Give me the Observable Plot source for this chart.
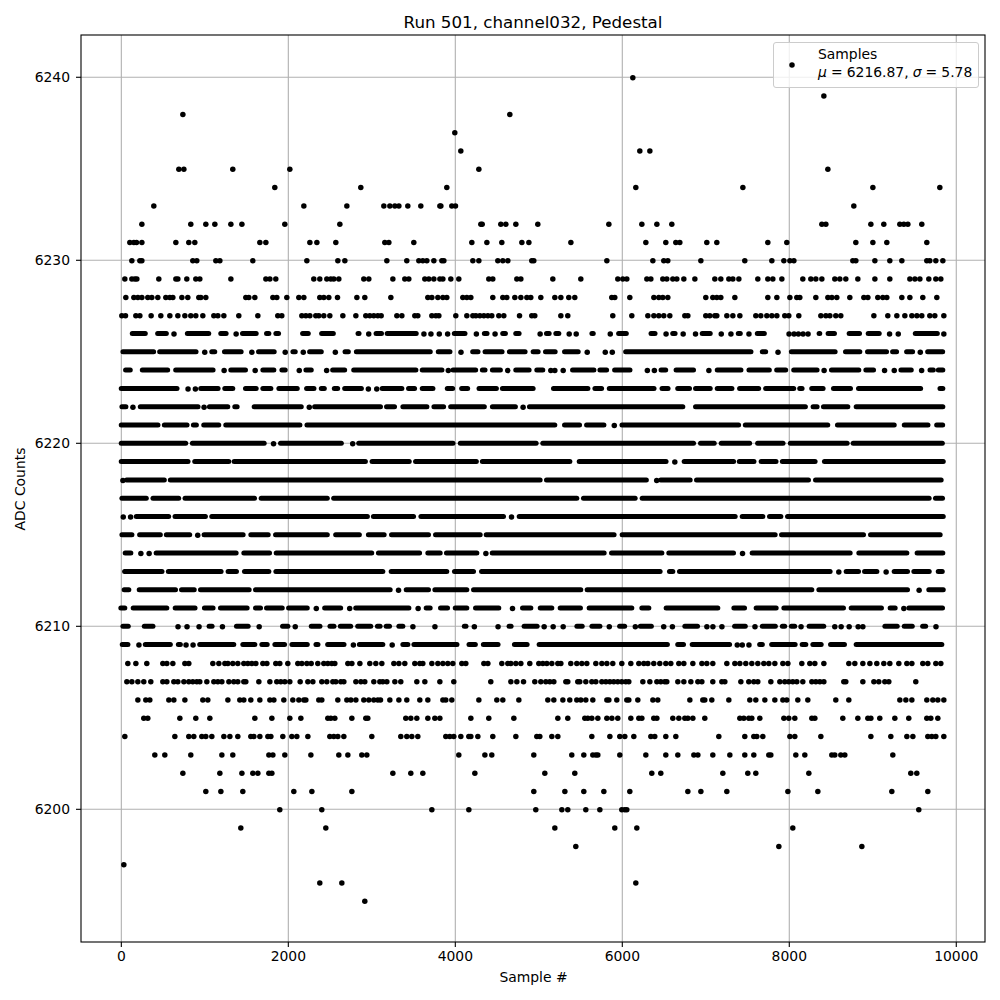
<!DOCTYPE html>
<html><head><meta charset="utf-8">
<script src="https://cdn.jsdelivr.net/npm/d3@7"></script>
<script src="https://cdn.jsdelivr.net/npm/@observablehq/plot@0.6"></script>
<style>
html,body{margin:0;padding:0;background:#fff}
#wrap{position:relative;width:1000px;height:1000px;font-family:"DejaVu Sans",sans-serif;color:#000}
#legend{position:absolute;left:773px;top:42px;width:204px;height:44px;background:rgba(255,255,255,.8);border:1px solid #ccc;border-radius:3px;font-size:13.9px;line-height:18px;word-spacing:-.3px}
#legend svg{position:absolute;left:14px;top:18px}
#legend .t{position:absolute;left:44px;white-space:nowrap}
</style></head><body><div id="wrap"></div>
<script>
const titleText = "Run 501, channel032, Pedestal";
const xLabel = "Sample #";
const yLabel = "ADC Counts";
const xTicks = [0,2000,4000,6000,8000,10000];
const yTicks = [6200,6210,6220,6230,6240];

// Individually readable samples (x = sample #)
const row6240=[6120];
const row6239=[8408];
const row6238=[731,4647];
const row6237=[3988];
const row6236=[4060,6204,6324];
const row6235=[683,743,1329,2012,4276,8456];
const row6234=[1832,2862,3892,6156,7438,8995,9797];
const row6233=[383,2180,2695,3138,3210,3270,3318,3425,3581,3809,3821,3952,3996,8767];
const row6232=[240,826,1006,1114,1306,1438,1952,2611,4300,4316,4539,4599,4719,4982,5833,6228,6408,6587,8384,8432,8971,9126,9318,9366,9414,9581];
const row6231=[96,144,176,240,647,802,874,1653,1725,2252,2336,2563,3150,3198,3497,4192,4372,4551,4791,4875,5378,6276,6515,6635,6683,7006,7126,7737,7964,8791,8995,9162,9641];
const row6230=[120,216,240,850,898,1126,1174,1569,2216,2587,2671,3174,3413,3557,3605,3653,3737,3833,3857,4204,4276,4503,4563,4623,4910,4934,5809,6360,6491,6539,6935,7461,7785,7929,8001,8049,8755,8791,9019,9198,9342,9641,9677,9749,9833];
const row6229=[36,120,156,180,443,647,671,778,886,934,1306,1725,1773,1844,2299,2371,2455,2503,2539,2599,2898,2958,3246,3389,3437,3629,3677,3737,3809,3845,3940,4036,4395,4443,4731,4779,5162,5497,5940,6000,6048,6288,6336,6479,6527,6599,6647,6731,6863,7102,7174,7270,7318,7390,7617,7737,7797,7905,8156,8252,8312,8384,8539,8599,8671,8815,9019,9198,9438,9498,9558,9665,9749,9809];
const row6228=[48,144,192,240,311,359,431,527,575,611,719,790,922,946,1006,1485,1521,1593,1809,1856,1976,2120,2180,2371,2419,2479,2583,2815,2910,3222,3665,3713,3785,3845,3892,4084,4132,4180,4443,4563,4611,4707,4779,4851,4898,5018,5186,5258,5353,5425,5868,5904,6084,6372,6431,6479,6539,6994,7078,7126,7174,7342,7737,7845,8001,8084,8120,8312,8456,8504,8563,8719,8887,8935,9054,9114,9162,9342,9438,9593,9761];
const row6227=[0,44,168,216,351,467,575,671,755,826,886,970,1102,1150,1222,1401,1629,1868,1916,2156,2204,2252,2323,2359,2419,2491,2647,2803,2922,2970,3018,3066,3106,3294,3354,3509,3545,3713,3761,3797,4000,4132,4204,4240,4288,4336,4384,4431,4515,4575,4763,4910,4946,5258,5341,5880,6108,6300,6372,6431,6491,6563,6743,6779,6994,7042,7102,7126,7246,7318,7402,7593,7653,7725,7785,7845,7940,7988,8108,8372,8432,8480,8551,8611,9007,9174,9282,9378,9462,9522,9581,9677,9737,9845];

// Dense rows: a number is one readable sample, a pair is a solid band of touching samples
const row6226=[[137,293],[441,545],625,[797,1053],[1197,1261],1369,[1457,1621],[1745,1773],[1857,1889],[2177,2245],[2405,2545],[2841,2853],2957,[3057,3122],[3190,3538],3618,3702,3802,3902,[3994,4122],4246,[4354,4386],4470,[4574,4606],[4730,4770],5010,[5098,5130],[5210,5246],5358,5442,[5642,5658],5850,[5962,6054],[6350,6398],6518,[6610,6638],6723,6871,[6963,7059],7179,7295,[7395,7419],7511,[7623,7707],7991,8051,8103,8159,8219,[8363,8371],[8471,8547],[8723,8847],[8951,9083],9195,9299,[9515,9779],9845];
const row6225=[[25,393],[465,901],993,[1089,1125],[1241,1441],1557,[1649,1837],1957,[2061,2089],2173,[2261,2401],2557,[2685,2725],[2821,3706],[3802,3942],4062,[4214,4278],[4362,4566],[4654,4842],[4938,4998],[5086,5202],[5314,5478],5574,5790,5874,[6046,7547],[7683,7723],7859,[8031,8555],[8679,8851],[8943,9171],[9243,9291],[9411,9483],9563,[9663,9843]];
const row6224=[[57,113],[257,561],[657,1105],1225,[1317,1493],1597,[1701,1833],[1929,1969],2125,[2217,2281],2453,[2537,2681],[2789,3534],[3610,3846],3910,[3978,4250],[4330,4362],[4450,4546],4622,[4730,4890],[4982,5054],5138,5186,5286,[5410,5666],[5738,5818],[5914,6098],6294,6378,[6470,6526],[6650,6859],7031,[7143,7427],[7523,7767],[7855,7963],[8059,8339],8411,[8511,8839],[8923,9015],9135,9251,[9343,9467],9579,[9691,9731],[9791,9845]];
const row6223=[[5,673],793,881,[957,1165],[1245,1341],[1493,1621],[1701,1797],[1893,2113],[2225,2313],[2401,2437],[2557,2597],[2681,2881],2953,3053,[3130,3366],[3446,3518],[3610,3738],[3910,3974],[4082,4154],[4290,4498],[4570,4938],[5182,5594],[5678,5758],[5850,6386],[6482,6554],[6670,6811],[6883,7059],[7143,7319],[7411,7639],[7723,8059],[8131,8159],[8275,8411],[8535,8739],[8835,9579],[9811,9845]];
const row6222=[[13,61],133,[233,925],985,[1061,1281],[1365,1393],[1597,2161],2245,[2321,3110],[3182,3278],[3378,3666],[3750,3866],[3950,4354],[4450,4726],4806,[4894,6731],[6883,8199],[8291,8339],[8415,8707],[8807,9845]];
const row6221=[[5,445],[521,793],[869,905],[993,1173],[1257,2145],[2229,5198],[5314,5494],[5578,5786],5898,[6002,7399],[7479,8467],[8583,9263],[9383,9667],[9771,9843]];
const row6220=[[5,777],[857,1717],1817,[1913,2641],2765,[2849,3978],[4066,4974],[5054,6859],[6943,7107],[7191,7531],[7627,7931],[8019,8699],[8771,9839]];
const row6219=[[5,805],[885,1293],[1357,2929],[3009,3454],[3530,4258],[4330,5378],[5490,6530],6623,[6747,7339],[7407,7583],[7669,7847],[7923,8315],[8427,9850]];
const row6218=[13,[69,521],[593,5022],[5098,6294],6406,[6466,6819],[6895,8236],[8320,9825]];
const row6217=[[13,305],[385,693],[769,1601],[1681,2473],[2549,5461],[5541,6160],[6244,9681],[9757,9841]];
const row6216=[17,105,[185,573],[649,1013],[1089,2953],[3025,3506],[3594,4583],4667,[4771,7358],[7442,7689],[7769,7905],[7985,9850]];
const row6215=[[13,133],[225,473],[545,825],909,[997,1465],[1557,1765],[1853,2473],[2573,2857],[2965,3154],[3242,3685],[3769,4304],[4376,5908],[6004,7837],[7913,8895],[8979,9813]];
const row6214=[[52,120],228,327,[423,1381],[1473,1781],[1861,3005],[3085,3578],[3677,3825],[3900,4264],4360,[4448,5789],[5877,6480],[6563,7338],7434,[7561,8735],[8839,9414],[9537,9845]];
const row6213=[[45,493],[569,1201],[1285,1385],[1481,1773],[1857,3138],[3238,3904],[3996,4224],[4320,6459],[6571,6611],[6691,8495],8587,[8687,8835],[8907,9055],9154,[9262,9422],[9498,9682],[9790,9838]];
const row6212=[[40,96],[220,655],[727,879],[954,1537],[1613,3226],3314,[3418,3685],[3761,4144],[4224,5509],[5585,8276],[8360,9422],9549,[9677,9850]];
const row6211=[[0,48],[148,551],[651,889],[1001,1105],[1193,1513],[1613,1673],[1745,1933],[2009,2233],2329,[2441,2633],2729,[2813,3450],3549,[3657,3705],[3829,3913],[4005,4144],[4248,4527],4679,[4811,4911],[5023,5162],[5262,5505],[5609,6120],[6240,6324],[6531,7150],[7342,7470],[7609,7849],[7941,8655],[8747,9110],[9214,9274],9366,[9438,9841]];
const row6210=[[25,89],[281,385],673,781,925,[1057,1093],1205,[1385,1525],1645,[1937,2001],2077,[2281,2385],[2505,2553],[2629,2753],[2837,2993],[3073,3105],[3178,3218],[3330,3378],3486,3750,[4114,4134],4222,4506,[4650,4674],[4830,4986],5058,5166,5286,[5462,5526],[5642,5738],5838,[5974,6034],6150,[6222,6354],6490,6594,[6755,6907],7007,7079,7187,[7351,7479],7583,[7683,7839],[7923,7951],[8031,8071],8135,[8243,8419],8539,8615,8711,8819,8875,[9151,9299],[9383,9479],[9603,9639],9751];
const row6209=[[17,85],205,[293,593],[689,713],769,853,[945,1353],[1461,1605],[1689,1753],[1845,1961],[2049,2233],[2337,2361],[2477,2673],2773,[2857,3138],3238,[3378,3438],[3510,4026],[4170,4246],[4342,4518],[4714,4866],[5010,6546],[6670,6739],[6843,7291],7371,7431,7511,[7651,7683],[7795,8076],[8160,8204],[8288,8388],[8500,8667],[8807,9833]];

const row6208=[72,168,299,491,539,611,755,802,1090,1162,1234,1270,1329,1389,1461,1509,1557,1605,1689,1737,1844,1892,1988,2108,2156,2216,2268,2347,2419,2467,2515,2551,2707,2755,2851,2970,3042,3114,3258,3318,3389,3509,3569,3605,3713,3785,3845,3904,3964,4072,4120,4336,4384,4551,4623,4659,4719,4779,4886,4994,5042,5090,5150,5222,5258,5377,5449,5509,5569,5677,5749,5809,5880,5988,6096,6192,6252,6300,6371,6443,6515,6575,6671,6731,6839,6947,7006,7078,7246,7342,7402,7473,7545,7617,7689,7749,7821,7917,7977,8144,8240,8300,8408,8707,8779,8875,8959,9042,9126,9198,9306,9402,9462,9593,9653,9749,9809];
const row6207=[60,120,192,263,347,491,539,623,671,743,802,850,898,934,1018,1102,1150,1198,1282,1341,1389,1461,1485,1641,1773,1856,1904,1952,2012,2136,2228,2288,2395,2455,2527,2563,2623,2659,2803,2863,2910,3018,3090,3126,3174,3270,3341,3533,3629,3809,3976,4419,4659,4731,4811,4946,5018,5078,5126,5174,5318,5341,5461,5485,5557,5629,5677,5749,5797,5845,5892,5940,5988,6036,6072,6240,6324,6408,6455,6503,6527,6659,6731,6815,6899,6947,7078,7186,7222,7414,7509,7569,7617,7773,7881,7940,7988,8036,8084,8156,8264,8312,8360,8408,8647,8671,8875,9007,9066,9138,9186,9509];
const row6206=[192,287,335,563,623,755,970,1030,1270,1413,1461,1545,1653,1773,1821,1940,2048,2120,2180,2204,2359,2395,2587,2695,2743,2803,2898,2958,3018,3066,3098,3210,3318,3413,3569,3665,3845,3880,3952,4276,4491,4563,4755,5102,5174,5282,5365,5449,5497,5557,5641,5809,5833,5928,6048,6072,6180,6360,6419,6803,6958,6982,7066,7270,7521,7593,7701,7821,7917,7964,8096,8216,8551,8707,9318,9390,9462,9641,9713,9773,9845];
const row6205=[263,311,695,886,1054,1593,1797,2012,2144,2467,2503,2551,2755,2922,2946,3401,3461,3533,3665,3749,3809,4180,4395,4695,5222,5341,5545,5581,5629,5701,5809,5869,5940,6096,6192,6228,6371,6408,6599,6671,6743,6779,6839,6982,7402,7449,7509,7545,7641,7929,7988,8060,8264,8300,8635,8815,8935,8971,9078,9258,9425,9641,9689,9773];
const row6204=[36,635,802,862,958,1006,1078,1222,1294,1389,1545,1581,1653,1749,1785,1928,2036,2096,2228,2491,2539,2587,2659,2994,3341,3413,3473,3545,3880,3928,3976,4060,4156,4180,4264,4443,4719,4970,5006,5150,5222,5629,5845,5964,6024,6132,6336,6383,6515,6635,7150,7461,7569,7605,7677,8001,8060,8372,8971,9210,9402,9474,9653,9701,9749,9845];
const row6203=[395,515,826,1198,1329,1761,1809,1952,2264,2599,2707,2874,2934,4036,4348,4431,4934,5389,5533,5641,5677,5701,5964,6276,6515,6659,6851,6899,7078,7282,7461,7569,7749,7773,8072,8180,8503,8539,8611,8659,9234];
const row6202=[731,1174,1438,1569,1629,1761,1797,3246,3461,3605,4228,5066,5425,6347,6455,7198,7497,7593,8228,9449,9521];
const row6201=[1006,1186,1449,2060,2276,2755,4934,5306,5533,5773,6084,6779,6935,7246,7977,8336,9222,9653];
const row6200=[1892,2395,3713,4156,4958,5270,5341,5557,5725,5988,6024,6048,9545];
const row6199=[1425,2443,5186,5904,6168,8036];
const row6198=[5437,7869,8863];
const row6197=[24];
const row6196=[2371,2635,6156];
const row6195=[2910];

const rowTable=[[6240,row6240],[6239,row6239],[6238,row6238],[6237,row6237],[6236,row6236],[6235,row6235],[6234,row6234],[6233,row6233],[6232,row6232],[6231,row6231],[6230,row6230],[6229,row6229],[6228,row6228],[6227,row6227],[6226,row6226],[6225,row6225],[6224,row6224],[6223,row6223],[6222,row6222],[6221,row6221],[6220,row6220],[6219,row6219],[6218,row6218],[6217,row6217],[6216,row6216],[6215,row6215],[6214,row6214],[6213,row6213],[6212,row6212],[6211,row6211],[6210,row6210],[6209,row6209],[6208,row6208],[6207,row6207],[6206,row6206],[6205,row6205],[6204,row6204],[6203,row6203],[6202,row6202],[6201,row6201],[6200,row6200],[6199,row6199],[6198,row6198],[6197,row6197],[6196,row6196],[6195,row6195]];

const points=[],bands=[];
for(const [y,items] of rowTable)for(const it of items){
  if(Array.isArray(it))bands.push({y,a:it[0],b:it[1]});else points.push({y,x:it});
}

const chart=Plot.plot({
  width:1000,height:1000,
  marginLeft:81,marginRight:15,marginTop:35,marginBottom:58,
  style:{fontFamily:"'DejaVu Sans',sans-serif",fontSize:"13.9px",color:"#000",background:"#fff"},
  x:{domain:[-483,10344]},
  y:{domain:[6192.75,6242.31]},
  marks:[
    Plot.gridX(xTicks,{stroke:"#b0b0b0",strokeOpacity:1,strokeWidth:1.1,dx:-0.5}),
    Plot.gridY(yTicks,{stroke:"#b0b0b0",strokeOpacity:1,strokeWidth:1.1,dy:-0.5}),
    Plot.ruleY(bands,{y:"y",x1:"a",x2:"b",stroke:"#000",strokeWidth:5,strokeLinecap:"round",dx:-0.5,dy:-0.5}),
    Plot.dot(points,{x:"x",y:"y",r:2.75,fill:"#000",stroke:"none"}),
    Plot.frame({stroke:"#000",strokeWidth:1.1,dx:-0.5,dy:-0.5}),
    Plot.axisX(xTicks,{tickFormat:"d",tickSize:5,tickPadding:4,strokeWidth:1.1,dx:-0.5,label:xLabel,labelAnchor:"center",labelArrow:"none",labelOffset:39}),
    Plot.axisY(yTicks,{tickFormat:"d",tickSize:5,tickPadding:6.5,strokeWidth:1.1,dy:-0.5,label:yLabel,labelAnchor:"center",labelArrow:"none",labelOffset:66}),
    Plot.text([titleText],{frameAnchor:"top",dy:-19,dx:-0.5,fontSize:16.7,fill:"#000"})
  ]
});
const wrap=document.getElementById("wrap");
wrap.appendChild(chart);
const leg=document.createElement("div");
leg.id="legend";
leg.innerHTML='<svg width="10" height="10"><circle cx="4" cy="4" r="2.75" fill="#000"/></svg>'+
 '<div class="t" style="top:2px">Samples</div>'+
 '<div class="t" style="top:20px"><i>μ</i> = 6216.87, <i>σ</i> = 5.78</div>';
wrap.appendChild(leg);
</script></body></html>
